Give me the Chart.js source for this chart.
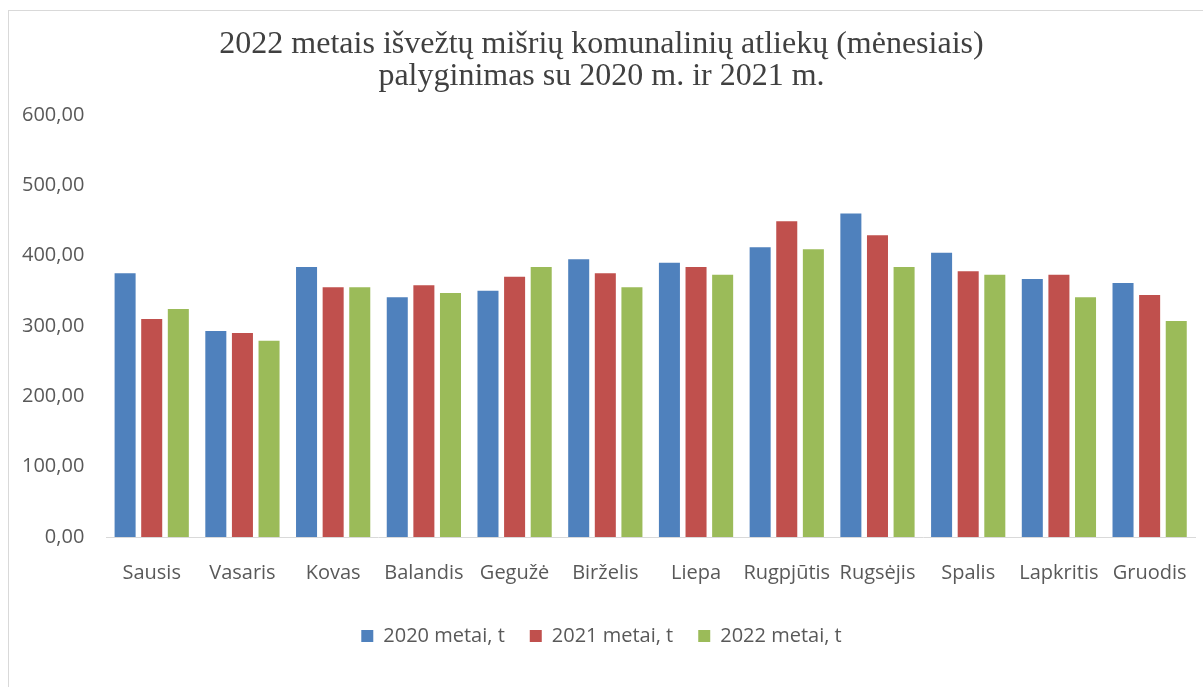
<!DOCTYPE html>
<html lang="lt">
<head>
    <meta charset="UTF-8">
    <title>Mišrios komunalinės atliekos</title>
    <script src="https://cdn.jsdelivr.net/npm/chart.js"></script>
    <style>
        html, body { margin: 0; padding: 0; background: #fff; overflow: hidden; }
        #wrap { position: relative; width: 1203px; height: 687px; }
        #frame { position: absolute; left: 8px; top: 10px; width: 1210px; height: 700px; border: 1px solid #d9d9d9; }
        canvas { position: absolute; left: 0; top: 0; }
    </style>
</head>
<body>
    <div id="wrap">
        <div id="frame"></div>
        <canvas id="wasteChart" width="1203" height="687"></canvas>
    </div>

    <script>
        const months = ['Sausis', 'Vasaris', 'Kovas', 'Balandis', 'Gegužė', 'Birželis',
                        'Liepa', 'Rugpjūtis', 'Rugsėjis', 'Spalis', 'Lapkritis', 'Gruodis'];
        const tons2020 = [375, 293, 384, 341, 350, 395, 390, 412, 460, 404, 367, 361];
        const tons2021 = [310, 290, 355, 358, 370, 375, 384, 449, 429, 378, 373, 344];
        const tons2022 = [324, 279, 355, 347, 384, 355, 373, 409, 384, 373, 341, 307];
        const titleLines = ['2022 metais išvežtų mišrių komunalinių atliekų (mėnesiais)',
                            'palyginimas su 2020 m. ir 2021 m.'];

        const textColor = '#595959';
        const tickFont = { family: "'Open Sans', sans-serif", size: 20 };

        const ctx = document.getElementById('wasteChart').getContext('2d');
        new Chart(ctx, {
            type: 'bar',
            data: {
                labels: months,
                datasets: [
                    { label: '2020 metai, t', data: tons2020, backgroundColor: '#4f81bd' },
                    { label: '2021 metai, t', data: tons2021, backgroundColor: '#c0504d' },
                    { label: '2022 metai, t', data: tons2022, backgroundColor: '#9bbb59' }
                ]
            },
            options: {
                responsive: false,
                animation: false,
                barPercentage: 0.79,
                categoryPercentage: 0.88,
                layout: { padding: { left: 8, right: 8, top: 15, bottom: 31 } },
                plugins: {
                    title: {
                        display: true,
                        text: titleLines,
                        color: '#404040',
                        font: { family: "'Liberation Serif', serif", size: 32, weight: 'normal', lineHeight: 1.0 },
                        padding: { top: 14, bottom: 22 }
                    },
                    legend: {
                        position: 'bottom',
                        labels: {
                            color: textColor,
                            font: tickFont,
                            boxWidth: 12,
                            boxHeight: 12,
                            padding: 25
                        }
                    },
                    tooltip: { enabled: false }
                },
                scales: {
                    x: {
                        grid: { display: false },
                        border: { display: true, color: '#d9d9d9', width: 1 },
                        ticks: { color: textColor, font: tickFont, padding: 16, maxRotation: 0, autoSkip: false }
                    },
                    y: {
                        min: 0,
                        max: 600,
                        grid: { display: false },
                        border: { display: false },
                        ticks: {
                            stepSize: 100,
                            color: textColor,
                            font: tickFont,
                            padding: 14,
                            callback: v => v.toFixed(2).replace('.', ',')
                        }
                    }
                }
            }
        });
    </script>
</body>
</html>
